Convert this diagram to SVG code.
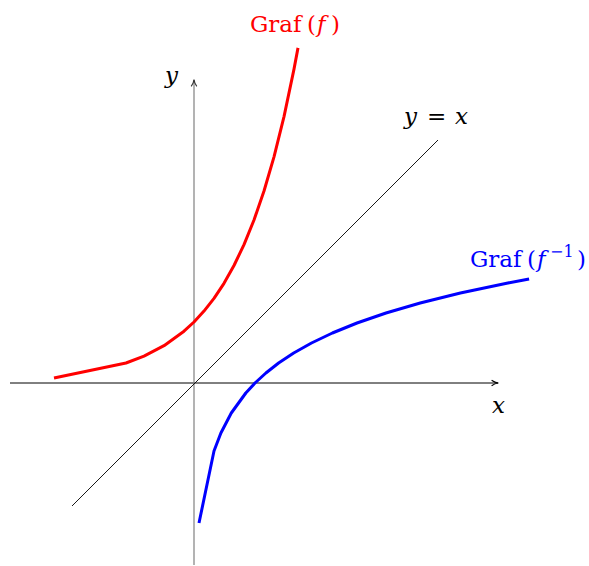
<svg xmlns="http://www.w3.org/2000/svg" width="589" height="566" viewBox="0 0 589 566">
<style>
.lbl{font-family:"DejaVu Serif","Liberation Serif",serif;font-size:23px}
.it{font-style:italic}
.sup{font-size:16px}
.curve{fill:none;stroke-width:3;stroke-linejoin:round;stroke-linecap:butt}
</style>
<defs>
<marker id="arrK" viewBox="0 0 10 10" refX="9" refY="5" markerWidth="8" markerHeight="8" markerUnits="userSpaceOnUse" orient="auto">
<path d="M1,1.5 Q5,4.5 9.5,5 Q5,5.5 1,8.5" fill="none" stroke="#000" stroke-width="1.4"/>
</marker>
<marker id="arrG" viewBox="0 0 10 10" refX="9" refY="5" markerWidth="8" markerHeight="8" markerUnits="userSpaceOnUse" orient="auto">
<path d="M1,1.5 Q5,4.5 9.5,5 Q5,5.5 1,8.5" fill="none" stroke="#333" stroke-width="1.4"/>
</marker>
</defs>
<g id="connectors">
<line id="x-axis" x1="10" y1="383" x2="498" y2="383" stroke="#000" stroke-width="1" marker-end="url(#arrK)"/>
<line id="y-axis" x1="194" y1="565" x2="194" y2="80" stroke="#808080" stroke-width="1.2" marker-end="url(#arrG)"/>
<line id="diag" x1="72" y1="506" x2="438" y2="140" stroke="#000" stroke-width="0.9"/>
</g>
<g id="graf-f">
<path class="curve" stroke="#ff0000" d="M54,378 L126,363 L144,356.1 L164,345.7 L184,331.2 L194,322 L204,311.1 L214,298.4 L224,283.3 L234,265.5 L244,244.6 L254,220 L264,191 L274,156.8 L284,116.6 L294,69.1 L298,47.9"/>
<text class="lbl" y="32" fill="#ff0000"><tspan x="250">Graf</tspan><tspan x="307">(</tspan><tspan x="317" class="it">f</tspan><tspan x="331">)</tspan></text>
</g>
<g id="graf-finv">
<path class="curve" stroke="#0000ff" d="M199,523 L214,451 L220.9,433 L231.3,413 L245.8,393 L255,383 L265.9,373 L278.6,363 L293.7,353 L311.5,343 L332.4,333 L357,323 L386,313 L420.2,303 L460.4,293 L507.9,283 L529.1,279"/>
<text class="lbl" y="267" fill="#0000ff"><tspan x="470">Graf</tspan><tspan x="527">(</tspan><tspan x="537" class="it">f</tspan><tspan x="550" y="257" class="sup">−1</tspan><tspan x="577" y="267">)</tspan></text>
</g>
<g id="labels">
<text class="lbl it" x="165" y="83">y</text>
<text class="lbl it" x="492" y="413">x</text>
<text class="lbl" y="124"><tspan x="404" class="it">y</tspan><tspan x="427">=</tspan><tspan x="455" class="it">x</tspan></text>
</g>
</svg>
